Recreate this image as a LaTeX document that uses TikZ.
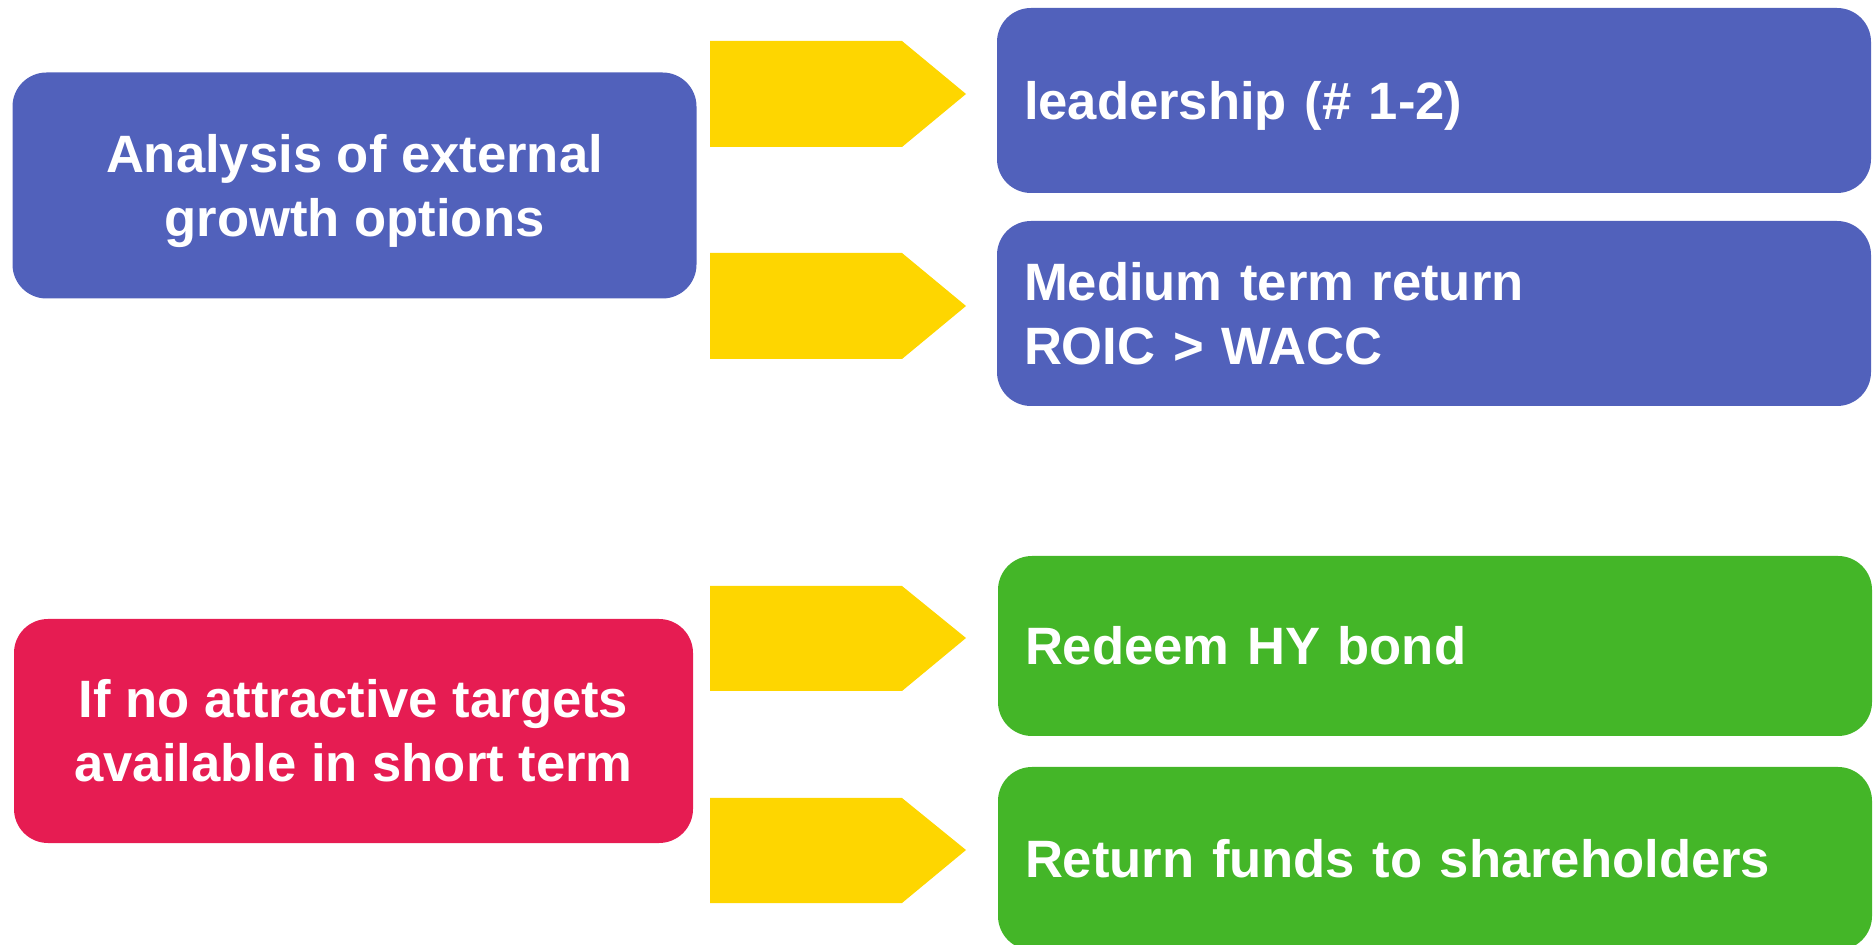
\documentclass[tikz,border=0pt]{standalone}
\usepackage{fontspec}
\setmainfont{Liberation Sans}
\definecolor{planblue}{RGB}{81,97,187}
\definecolor{planred}{RGB}{230,28,82}
\definecolor{plangreen}{RGB}{68,182,40}
\definecolor{planyellow}{RGB}{254,214,0}
\tikzset{
	box/.style = {rounded corners=17pt, inner sep=0pt, text=white, text depth=0pt,
		font=\bfseries\fontsize{26.3}{32}\selectfont},
	leftbox/.style = {box, align=center, text height=51pt, minimum width=342pt, minimum height=113pt},
	rightbox/.style = {box, align=left, text height=19pt, text width=410pt, minimum width=437pt},
}
\begin{document}
\begin{tikzpicture}[x=0.5pt, y=-0.5pt]
	\useasboundingbox (0,0) rectangle (1874,945);
	% chevrons
	\fill[planyellow] (710,41) -- (902,41) -- (966,94) -- (902,147) -- (710,147) --cycle;
	\fill[planyellow] (710,253) -- (902,253) -- (966,306) -- (902,359) -- (710,359) --cycle;
	\fill[planyellow] (710,586) -- (902,586) -- (966,638) -- (902,691) -- (710,691) --cycle;
	\fill[planyellow] (710,798) -- (902,798) -- (966,850) -- (902,903) -- (710,903) --cycle;
	% left column
	\node[leftbox, fill=planblue] (ana) at (354.5,185.5) {Analysis of external\\growth options};
	\node[leftbox, fill=planred, minimum width=339.5pt, minimum height=112pt] (cond) at (353.5,731) {If no attractive targets\\available in short term};
	% right column
	\node[rightbox, fill=planblue, minimum height=92.5pt] (lead) at (1434,100.5) {leadership (\# 1-2)};
	\node[rightbox, fill=planblue, minimum height=92.5pt, text depth=32pt] (roic) at (1434,313.5) {Medium term return\\ROIC > WACC};
	\node[rightbox, fill=plangreen, minimum height=90pt] (hy) at (1435,646) {Redeem HY bond};
	\node[rightbox, fill=plangreen, minimum height=91.5pt] (ret) at (1435,858.5) {Return funds to shareholders};
\end{tikzpicture}
\end{document}
